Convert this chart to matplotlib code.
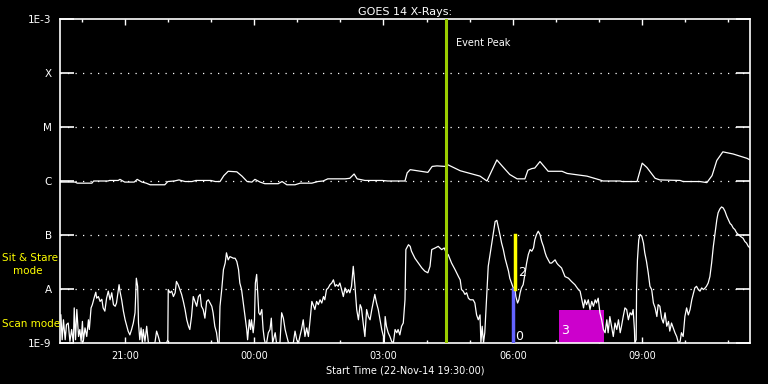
import matplotlib
matplotlib.use("Agg")
import matplotlib.pyplot as plt
import numpy as np

# hours after 19:30 UT, log10 flux (W/m^2)
t_long = [0.0, 0.35, 0.40, 0.74, 0.78, 1.11, 1.15, 1.35, 1.39, 1.50, 1.72, 1.79, 1.90, 2.00,
          2.09, 2.43, 2.50, 2.65, 2.76, 2.90, 3.06, 3.15, 3.50, 3.60, 3.71, 3.80, 3.90, 4.10,
          4.22, 4.34, 4.45, 4.52, 4.64, 4.75, 5.06, 5.15, 5.26, 5.45, 5.57, 5.84, 5.98, 6.10,
          6.21, 6.61, 6.72, 6.82, 6.89, 7.07, 7.47, 7.60, 8.00, 8.05, 8.12, 8.53, 8.63, 8.74,
          8.93, 8.97, 9.28, 9.51, 9.74, 9.90, 10.13, 10.25, 10.43, 10.60, 10.78, 10.85, 10.94,
          11.01, 11.13, 11.32, 11.64, 11.76, 12.22, 12.52, 12.59, 12.99, 13.03, 13.38, 13.50,
          13.61, 13.80, 13.91, 14.38, 14.45, 14.84, 15.00, 15.12, 15.23, 15.37, 15.61, 15.93, 16.00]
f_long = [-6.02, -6.02, -6.04, -6.04, -6.00, -6.00, -5.99, -5.99, -5.97, -6.02, -6.02, -5.97, -6.02, -6.04,
          -6.07, -6.07, -6.01, -6.00, -5.98, -6.01, -6.01, -5.99, -5.99, -6.01, -6.01, -5.90, -5.82, -5.83,
          -5.91, -6.01, -6.02, -5.97, -6.02, -6.05, -6.05, -6.01, -6.07, -6.07, -6.04, -6.04, -6.01, -6.00,
          -5.96, -5.96, -5.95, -5.87, -5.96, -5.99, -5.99, -6.00, -6.00, -5.85, -5.79, -5.84, -5.73, -5.72,
          -5.73, -5.69, -5.81, -5.86, -5.91, -6.00, -5.61, -5.72, -5.88, -5.96, -5.96, -5.80, -5.77,
          -5.76, -5.64, -5.82, -5.82, -5.86, -5.91, -5.98, -6.00, -6.00, -6.01, -6.01, -5.67,
          -5.75, -5.95, -5.98, -5.99, -6.01, -6.01, -6.03, -5.90, -5.62, -5.46, -5.50, -5.58, -5.61]

t_short = [0.02, 0.05, 0.08, 0.12, 0.15, 0.19, 0.23, 0.27, 0.31, 0.33, 0.36, 0.39, 0.43, 0.46, 0.49,
           0.52, 0.54, 0.58, 0.62, 0.66, 0.68, 0.72, 0.75, 0.80, 0.83, 0.85, 0.89, 0.93, 0.97, 1.00,
           1.04, 1.08, 1.12, 1.16, 1.20, 1.24, 1.28, 1.31, 1.37, 1.39, 1.43, 1.47, 1.51, 1.55, 1.58,
           1.62, 1.66, 1.70, 1.74, 1.77, 1.80, 1.82, 1.85, 1.88, 1.91, 1.93, 1.97, 2.01, 2.05, 2.20,
           2.24, 2.28, 2.32, 2.47, 2.50, 2.51, 2.55, 2.59, 2.63, 2.67, 2.70, 2.74, 2.78, 2.82, 2.86,
           2.90, 2.94, 2.98, 3.01, 3.05, 3.09, 3.13, 3.17, 3.21, 3.25, 3.28, 3.32, 3.36, 3.40, 3.44,
           3.48, 3.52, 3.55, 3.59, 3.63, 3.66, 3.69, 3.71, 3.75, 3.79, 3.83, 3.86, 3.90, 3.94, 4.02,
           4.06, 4.10, 4.14, 4.17, 4.21, 4.25, 4.29, 4.33, 4.35, 4.37, 4.39, 4.42, 4.44, 4.48, 4.51,
           4.53, 4.56, 4.58, 4.61, 4.64, 4.68, 4.71, 4.74, 4.76, 4.79, 4.83, 4.87, 4.90, 4.93, 4.99,
           5.02, 5.10, 5.14, 5.18, 5.22, 5.26, 5.30, 5.41, 5.45, 5.49, 5.53, 5.57, 5.60, 5.64, 5.68,
           5.72, 5.76, 5.80, 5.84, 5.87, 5.91, 5.95, 5.99, 6.03, 6.07, 6.11, 6.14, 6.18, 6.22, 6.26,
           6.30, 6.34, 6.38, 6.41, 6.45, 6.49, 6.53, 6.57, 6.61, 6.65, 6.69, 6.72, 6.76, 6.80, 6.84,
           6.88, 6.92, 6.96, 6.99, 7.03, 7.07, 7.11, 7.15, 7.19, 7.23, 7.26, 7.30, 7.34, 7.38, 7.42,
           7.46, 7.50, 7.52, 7.54, 7.57, 7.61, 7.65, 7.69, 7.73, 7.77, 7.81, 7.84, 7.88, 7.92, 7.96,
           8.00, 8.02, 8.08, 8.12, 8.15, 8.23, 8.31, 8.39, 8.46, 8.53, 8.58, 8.62, 8.70, 8.77, 8.85,
           8.91, 8.97, 9.00, 9.08, 9.16, 9.24, 9.28, 9.31, 9.35, 9.39, 9.43, 9.47, 9.51, 9.58, 9.62,
           9.66, 9.70, 9.74, 9.76, 9.79, 9.82, 9.85, 9.89, 9.93, 9.99, 10.05, 10.09, 10.13, 10.16, 10.20,
           10.24, 10.28, 10.32, 10.36, 10.40, 10.43, 10.47, 10.51, 10.55, 10.57, 10.61, 10.64, 10.67, 10.70,
           10.74, 10.78, 10.82, 10.86, 10.90, 10.94, 10.98, 11.01, 11.05, 11.09, 11.13, 11.17, 11.21, 11.25,
           11.28, 11.32, 11.36, 11.40, 11.44, 11.48, 11.52, 11.55, 11.63, 11.71, 11.79, 11.86, 11.94, 12.02,
           12.06, 12.10, 12.14, 12.17, 12.21, 12.25, 12.29, 12.33, 12.37, 12.41, 12.44, 12.48, 12.52, 12.56,
           12.60, 12.64, 12.68, 12.71, 12.75, 12.79, 12.83, 12.87, 12.91, 12.95, 12.99, 13.02, 13.06, 13.10,
           13.14, 13.18, 13.22, 13.26, 13.29, 13.32, 13.33, 13.36, 13.37, 13.39, 13.42, 13.45, 13.49, 13.53,
           13.56, 13.60, 13.64, 13.68, 13.72, 13.76, 13.80, 13.84, 13.87, 13.91, 13.95, 13.99, 14.03, 14.07,
           14.11, 14.14, 14.18, 14.22, 14.26, 14.30, 14.34, 14.38, 14.41, 14.45, 14.49, 14.53, 14.57, 14.61,
           14.65, 14.69, 14.72, 14.76, 14.80, 14.84, 14.88, 14.92, 14.96, 14.99, 15.03, 15.07, 15.11, 15.15,
           15.19, 15.23, 15.26, 15.30, 15.34, 15.38, 15.42, 15.46, 15.50, 15.54, 15.57, 15.61, 15.65, 15.69,
           15.73, 15.77, 15.84, 15.88, 15.92, 15.96, 16.00]
f_short = [-8.48, -8.94, -8.57, -8.94, -8.66, -8.63, -8.97, -8.75, -9.00, -8.35, -8.94, -8.38, -8.88, -8.75, -8.97,
           -8.60, -8.97, -8.72, -8.88, -8.57, -8.75, -8.35, -8.29, -8.14, -8.06, -8.17, -8.14, -8.23, -8.19, -8.35,
           -8.41, -8.17, -8.04, -8.20, -8.07, -8.29, -8.32, -8.26, -7.92, -8.04, -8.20, -8.41, -8.57, -8.69, -8.78,
           -8.85, -8.75, -8.63, -8.44, -7.80, -7.95, -8.63, -8.94, -8.72, -9.00, -8.75, -8.97, -8.69, -9.00, -9.00,
           -8.78, -8.88, -9.00, -9.00, -8.94, -8.01, -8.07, -8.04, -8.14, -8.07, -7.86, -7.92, -8.01, -8.10, -8.23,
           -8.38, -8.57, -8.69, -8.75, -8.51, -8.14, -8.23, -8.32, -8.14, -8.10, -8.32, -8.38, -8.54, -8.23, -8.20,
           -8.26, -8.32, -8.44, -8.69, -8.81, -9.00, -9.00, -8.32, -8.01, -7.64, -7.52, -7.33, -7.46, -7.40, -7.43,
           -7.43, -7.49, -7.64, -7.89, -8.01, -8.26, -8.51, -8.75, -8.94, -8.75, -8.57, -8.75, -8.57, -8.81, -8.57,
           -7.89, -7.73, -8.01, -8.44, -8.48, -8.38, -8.75, -8.94, -9.00, -9.00, -8.81, -8.75, -8.54, -9.00, -8.81,
           -9.00, -9.00, -8.44, -8.54, -8.75, -8.88, -9.00, -9.00, -8.78, -8.94, -9.00, -8.85, -8.75, -8.57, -8.88,
           -8.72, -8.88, -8.57, -8.23, -8.29, -8.38, -8.23, -8.29, -8.20, -8.26, -8.14, -8.20, -8.01, -7.98, -7.92,
           -7.89, -7.83, -7.95, -7.92, -7.95, -7.89, -8.01, -8.14, -7.98, -8.07, -8.01, -8.07, -7.95, -7.58, -7.95,
           -8.38, -8.57, -8.29, -8.35, -8.63, -8.88, -8.38, -8.51, -8.57, -8.38, -8.26, -8.10, -8.26, -8.38, -8.57,
           -8.75, -8.88, -9.00, -8.51, -8.69, -8.81, -8.88, -8.97, -9.00, -8.75, -8.81, -8.75, -8.85, -8.69, -8.63,
           -8.20, -7.27, -7.18, -7.21, -7.30, -7.43, -7.52, -7.61, -7.67, -7.70, -7.58, -7.27, -7.24, -7.21, -7.27,
           -7.24, -7.36, -7.36, -7.52, -7.64, -7.77, -7.83, -8.01, -8.04, -8.10, -8.07, -8.17, -8.20, -8.20, -8.26,
           -8.48, -8.57, -8.48, -9.00, -8.69, -9.00, -8.81, -8.20, -7.58, -7.27, -6.96, -6.75, -6.73, -6.84, -6.99,
           -7.15, -7.27, -7.43, -7.55, -7.67, -7.80, -7.89, -7.98, -8.00, -8.14, -8.26, -8.20, -8.07, -7.98,
           -7.92, -7.73, -7.52, -7.36, -7.27, -7.30, -7.24, -7.09, -6.99, -6.93, -6.99, -7.12, -7.21, -7.33,
           -7.40, -7.46, -7.52, -7.52, -7.49, -7.46, -7.52, -7.55, -7.61, -7.77, -7.80, -7.86, -7.92, -8.01,
           -8.04, -8.20, -8.35, -8.20, -8.29, -8.20, -8.38, -8.23, -8.32, -8.20, -8.26, -8.17, -8.44, -8.57,
           -8.75, -8.81, -8.57, -8.81, -8.51, -8.69, -8.88, -8.63, -8.75, -8.57, -8.81, -8.69, -8.51, -8.35,
           -8.38, -8.57, -8.44, -8.48, -8.38, -8.75, -9.00, -8.94, -8.01, -7.46, -7.09, -6.99, -7.02, -7.15,
           -7.33, -7.49, -7.70, -7.95, -8.01, -8.26, -8.35, -8.51, -8.29, -8.32, -8.54, -8.63, -8.44, -8.69,
           -8.60, -8.78, -8.63, -8.72, -8.81, -8.88, -9.00, -8.97, -8.81, -8.88, -8.51, -8.35, -8.48, -8.38,
           -8.20, -8.07, -7.98, -7.95, -8.01, -8.04, -7.98, -8.01, -7.98, -7.95, -7.89, -7.77, -7.52, -7.21,
           -6.96, -6.72, -6.59, -6.52, -6.48, -6.50, -6.56, -6.65, -6.72, -6.79, -6.81, -6.87, -6.90, -6.96,
           -6.99, -7.02, -7.06, -7.12, -7.15, -7.21, -7.24]

level_vals = [1e-9, 1e-8, 1e-7, 1e-6, 1e-5, 1e-4, 1e-3]
level_names = ['1E-9', 'A', 'B', 'C', 'M', 'X', '1E-3']
tick_hours = [1.5, 4.5, 7.5, 10.5, 13.5]
tick_names = ['21:00', '00:00', '03:00', '06:00', '09:00']

event_peak = 8.95
scan_start = 10.50
stare_start = 10.55
scan3 = (11.57, 12.61, 10 ** -8.39)

fig = plt.figure(figsize=(7.68, 3.84), dpi=100, facecolor='black')
ax = fig.add_axes([60 / 768, 41 / 384, 690 / 768, 324 / 384], facecolor='black')

ax.set_yscale('log')
ax.set_ylim(1e-9, 1e-3)
ax.set_xlim(0, 16)

for lv in level_vals[1:-1]:
    ax.axhline(lv, color='white', lw=0.9, ls=(0, (1, 5)), zorder=1)

ax.fill_between([scan3[0], scan3[1]], 1e-9, scan3[2], color='#cc00cc', lw=0, zorder=2)
ax.text(scan3[0] + 0.06, 10 ** -8.83, '3', color='white', fontsize=9, zorder=5)

ax.plot(t_long, 10 ** np.array(f_long), color='white', lw=0.9, zorder=3)
ax.plot(t_short, 10 ** np.array(f_short), color='white', lw=0.9, zorder=3)

ax.axvline(event_peak, color='#9acd00', lw=2.2, zorder=4)
ax.text(event_peak + 0.23, 10 ** -3.45, 'Event Peak', color='white', fontsize=7, va='center')

ax.plot([scan_start, scan_start], [1e-9, 1e-8], color='#6464ff', lw=2.5, zorder=4)
ax.plot([stare_start, stare_start], [1e-8, 1e-7], color='#ffff00', lw=2.5, zorder=4)
ax.text(stare_start + 0.07, 10 ** -7.7, '2', color='white', fontsize=9, va='center', zorder=5)
ax.text(scan_start + 0.05, 10 ** -8.88, '0', color='white', fontsize=9, va='center', zorder=5)

ax.set_yticks(level_vals)
ax.set_yticklabels(level_names)
ax.yaxis.set_minor_locator(matplotlib.ticker.NullLocator())
ax.tick_params(axis='y', which='major', direction='in', length=10, width=1.2,
               left=True, right=True, colors='white', labelsize=7.5, pad=6)

ax.set_xticks(tick_hours)
ax.set_xticklabels(tick_names)
ax.set_xticks(np.arange(0.5, 16, 1.0), minor=True)
ax.tick_params(axis='x', which='major', direction='in', length=4.5, width=1,
               top=True, bottom=True, colors='white', labelsize=7, pad=6)
ax.tick_params(axis='x', which='minor', direction='in', length=2.2, width=1,
               top=True, bottom=True, colors='white')

for s in ax.spines.values():
    s.set_color('white')
    s.set_linewidth(1.2)

ax.set_title('GOES 14 X-Rays:', color='white', fontsize=8, pad=3)
ax.set_xlabel('Start Time (22-Nov-14 19:30:00)', color='white', fontsize=7, labelpad=3)

fig.text(2 / 768, 1 - 258 / 384, 'Sit & Stare', color='#ffff00', fontsize=7.5, va='center')
fig.text(13 / 768, 1 - 271 / 384, 'mode', color='#ffff00', fontsize=7.5, va='center')
fig.text(2 / 768, 1 - 324 / 384, 'Scan mode', color='#ffff00', fontsize=7.5, va='center')

fig.savefig('out.png', dpi=100, facecolor='black')
